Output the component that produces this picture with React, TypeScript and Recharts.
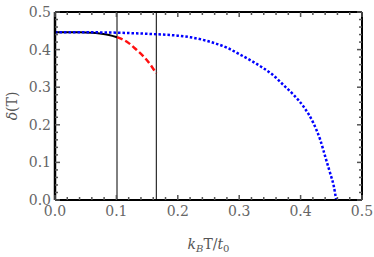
import { ComposedChart, Line, ReferenceLine, XAxis, YAxis } from "recharts";

// order parameter vs temperature
const blueT = [0, 0.05, 0.1, 0.15, 0.2, 0.22, 0.25, 0.28, 0.3, 0.32, 0.34, 0.353, 0.372, 0.389, 0.405, 0.421, 0.432, 0.44, 0.448, 0.454, 0.458];
const blueDelta = [0.446, 0.446, 0.445, 0.442, 0.437, 0.433, 0.422, 0.405, 0.388, 0.37, 0.35, 0.335, 0.306, 0.279, 0.248, 0.204, 0.16, 0.116, 0.072, 0.037, 0];

const blackT = [0, 0.04, 0.06, 0.073, 0.088, 0.101];
const blackDelta = [0.446, 0.446, 0.445, 0.443, 0.439, 0.433];

const redT = [0.101, 0.117, 0.133, 0.147, 0.158, 0.165];
const redDelta = [0.433, 0.421, 0.399, 0.377, 0.354, 0.337];

const transitionTemps = [0.101, 0.165];

const xTicks = [0, 0.02, 0.04, 0.06, 0.08, 0.1, 0.12, 0.14, 0.16, 0.18, 0.2, 0.22, 0.24, 0.26, 0.28, 0.3, 0.32, 0.34, 0.36, 0.38, 0.4, 0.42, 0.44, 0.46, 0.48, 0.5];
const yTicks = xTicks;

const blueData = blueT.map((x, i) => ({ x, y: blueDelta[i] }));
const blackData = blackT.map((x, i) => ({ x, y: blackDelta[i] }));
const redData = redT.map((x, i) => ({ x, y: redDelta[i] }));

const tickFont = { fontFamily: "DejaVu Serif", fontSize: 14, fill: "#666" };
const tickColor = "#555";

function isMajor(v: number) {
  return Math.abs(v * 10 - Math.round(v * 10)) < 1e-6;
}

// orientation-aware tick: short inward mark, label only on bottom/left majors
function FrameTick(props: any) {
  const { x, y, payload, side } = props;
  const major = isMajor(payload.value);
  const len = major ? 5 : 3;
  let d = "";
  if (side === "bottom") d = `M${x},${y}V${y - len}`;
  if (side === "top") d = `M${x},${y}V${y + len}`;
  if (side === "left") d = `M${x},${y}H${x + len}`;
  if (side === "right") d = `M${x},${y}H${x - len}`;
  return (
    <g>
      <path d={d} stroke={tickColor} strokeWidth={1.5} fill="none" />
      {major && side === "bottom" && (
        <text x={x} y={y + 16} textAnchor="middle" {...tickFont}>
          {payload.value.toFixed(1)}
        </text>
      )}
      {major && side === "left" && (
        <text x={x - 4} y={y} dy="0.35em" textAnchor="end" {...tickFont}>
          {payload.value.toFixed(1)}
        </text>
      )}
    </g>
  );
}

function XLabel({ viewBox }: any) {
  const cx = viewBox.x + viewBox.width / 2;
  const cy = viewBox.y + viewBox.height - 8;
  return (
    <text x={cx} y={cy} textAnchor="middle" fontFamily="DejaVu Serif" fontSize={14} fill="#555">
      <tspan fontStyle="italic">k</tspan>
      <tspan fontStyle="italic" fontSize={10} dy={3}>B</tspan>
      <tspan dy={-3}>T/</tspan>
      <tspan fontStyle="italic">t</tspan>
      <tspan fontSize={10} dy={3}>0</tspan>
    </text>
  );
}

function YLabel({ viewBox }: any) {
  const cx = viewBox.x - 3;
  const cy = viewBox.y + viewBox.height / 2;
  return (
    <text x={cx} y={cy} textAnchor="middle" dy="0.35em" transform={`rotate(-90 ${cx} ${cy})`} fontFamily="DejaVu Serif" fontSize={14} fill="#555">
      <tspan fontStyle="italic">δ</tspan>
      <tspan>(T)</tspan>
    </text>
  );
}

const frameLine = { stroke: "#000", strokeWidth: 2 };

export default function App() {
  return (
    <div style={{ position: "absolute", left: 0, top: 0, background: "#fff" }}>
      <ComposedChart width={374} height={257} margin={{ top: 11, right: 11, bottom: 0, left: 15 }}>
        <XAxis
          dataKey="x"
          type="number"
          domain={[0, 0.5]}
          ticks={xTicks}
          interval={0}
          height={57}
          tickSize={0}
          tickMargin={0}
          tickLine={false}
          axisLine={frameLine}
          tick={(p: any) => <FrameTick {...p} side="bottom" />}
          label={<XLabel />}
        />
        <XAxis
          xAxisId="top"
          orientation="top"
          dataKey="x"
          type="number"
          domain={[0, 0.5]}
          ticks={xTicks}
          interval={0}
          height={1}
          tickSize={0}
          tickMargin={0}
          tickLine={false}
          axisLine={frameLine}
          tick={(p: any) => <FrameTick {...p} side="top" />}
        />
        <YAxis
          type="number"
          domain={[0, 0.5]}
          ticks={yTicks}
          interval={0}
          width={40}
          tickSize={0}
          tickMargin={0}
          tickLine={false}
          axisLine={{ stroke: "#000", strokeWidth: 2.5 }}
          tick={(p: any) => <FrameTick {...p} side="left" />}
          label={<YLabel />}
        />
        <YAxis
          yAxisId="right"
          orientation="right"
          type="number"
          domain={[0, 0.5]}
          ticks={yTicks}
          interval={0}
          width={1}
          tickSize={0}
          tickMargin={0}
          tickLine={false}
          axisLine={frameLine}
          tick={(p: any) => <FrameTick {...p} side="right" />}
        />
        {transitionTemps.map((t) => (
          <ReferenceLine key={t} x={t} stroke="#000" strokeWidth={1} />
        ))}
        {/* invisible copy so the mirrored frame axes get a domain */}
        <Line data={blueData} dataKey="y" xAxisId="top" yAxisId="right" stroke="none" dot={false} activeDot={false} legendType="none" isAnimationActive={false} />
        <Line data={blackData} dataKey="y" type="monotone" stroke="#000" strokeWidth={2} dot={false} isAnimationActive={false} />
        <Line data={redData} dataKey="y" type="monotone" stroke="#ff1010" strokeWidth={2.5} strokeDasharray="6 3" dot={false} isAnimationActive={false} />
        <Line data={blueData} dataKey="y" type="monotone" stroke="#0000ff" strokeWidth={2.5} strokeDasharray="2.5 2" dot={false} isAnimationActive={false} />
      </ComposedChart>
    </div>
  );
}
